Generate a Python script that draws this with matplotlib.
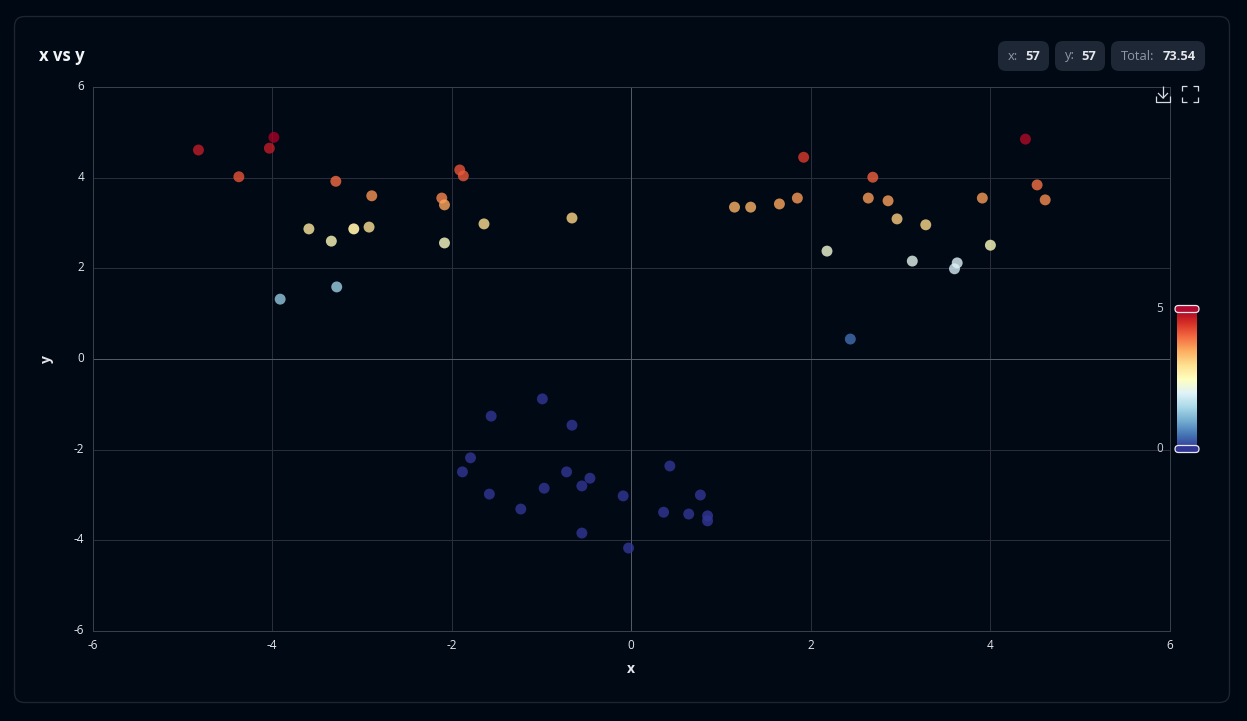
import numpy as np
import matplotlib
matplotlib.use("Agg")
import matplotlib.pyplot as plt
from matplotlib.patches import FancyBboxPatch
from matplotlib.transforms import ScaledTranslation

x = [-4.82,-3.98,-4.03,-4.37,-3.29,-2.89,-1.91,-1.87,-2.11,-2.08,-3.59,-3.34,-3.09,-2.92,-2.08,-1.64,-0.66,-3.91,-3.28,
     1.92,2.69,4.39,4.52,4.61,3.91,1.15,1.33,1.65,1.85,2.64,2.86,2.96,3.28,2.18,3.13,3.60,3.63,4.00,2.44,
     -0.99,-1.56,-0.66,-1.79,-1.88,-1.58,-1.23,-0.97,-0.72,-0.55,-0.46,-0.09,0.43,0.77,0.36,0.64,0.85,0.85,-0.55,-0.03]
y = [4.61,4.89,4.65,4.02,3.92,3.60,4.17,4.04,3.55,3.40,2.87,2.60,2.87,2.91,2.56,2.98,3.11,1.32,1.59,
     4.45,4.01,4.85,3.84,3.51,3.55,3.35,3.35,3.42,3.55,3.55,3.49,3.09,2.96,2.38,2.16,1.99,2.12,2.51,0.44,
     -0.88,-1.26,-1.46,-2.18,-2.49,-2.98,-3.31,-2.85,-2.49,-2.80,-2.63,-3.02,-2.36,-3.00,-3.38,-3.42,-3.46,-3.57,-3.84,-4.17]
values = [4.7,5.0,4.7,4.2,4.0,3.7,4.2,4.15,3.8,3.55,2.85,2.55,2.75,2.95,2.45,3.0,3.1,1.3,1.4,
          4.4,4.1,4.9,3.95,3.75,3.65,3.45,3.45,3.55,3.65,3.65,3.6,3.2,3.05,2.3,2.1,1.9,2.0,2.5,0.45,
          0,0,0,0,0,0,0,0,0,0,0,0,0,0,0,0,0,0,0,0]
highlighted = [12]
ticks = [-6,-4,-2,0,2,4,6]
title = "x vs y"
badges = [("x:", "57"), ("y:", "57"), ("Total:", "73.54")]

W, H = 1247, 721
BG = "#000814"
plt.rcParams["font.family"] = ["Open Sans", "DejaVu Sans"]
plt.rcParams["axes.unicode_minus"] = False
fig = plt.figure(figsize=(W/100, H/100), dpi=100, facecolor=BG)

bgax = fig.add_axes([0, 0, 1, 1], zorder=0)
bgax.set_xlim(0, W); bgax.set_ylim(H, 0); bgax.axis("off")
bgax.add_patch(FancyBboxPatch((14.5, 16.5), 1215, 686, boxstyle="round,pad=0,rounding_size=10",
                              fc="#010915", ec="#1f2530", lw=1))

ax = fig.add_axes([92.5/W, 1-631/H, (1170-92.5)/W, (631-87)/H], zorder=1)
ax.patch.set_alpha(0)
ax.set_xlim(-6, 6); ax.set_ylim(-6, 6)
ax.set_xticks(ticks); ax.set_yticks(ticks)
ax.grid(True, color="#2b303c", lw=0.7)
ax.set_axisbelow(True)
for s in ax.spines.values():
    s.set_color("#3a404c"); s.set_linewidth(0.7)
ax.axhline(0, color="#565c66", lw=0.7, zorder=1)
ax.axvline(0, color="#565c66", lw=0.7, zorder=1)
ax.tick_params(length=0, colors="#e5e7eb", labelsize=8.5, pad=6)
up = ScaledTranslation(0, 1.5/72, fig.dpi_scale_trans)
for lab in ax.get_yticklabels():
    lab.set_transform(lab.get_transform() + up)
ax.set_xlabel("x", color="#e5e7eb", fontsize=10, fontweight="bold", labelpad=7)
ax.set_ylabel("y", color="#e5e7eb", fontsize=10, fontweight="bold", labelpad=14)
cmap = plt.get_cmap("RdYlBu_r")
alphas = [0.92 if i in highlighted else 0.8 for i in range(len(x))]
ax.scatter(x, y, c=values, cmap=cmap, vmin=0, vmax=5, s=62, alpha=alphas, linewidths=0, zorder=3)

ov = fig.add_axes([0, 0, 1, 1], zorder=2)
ov.set_xlim(0, W); ov.set_ylim(H, 0); ov.axis("off"); ov.patch.set_alpha(0)
ov.text(39, 56, title, color="#f3f4f6", fontsize=12, fontweight="bold", va="center", ha="left")

spans = [(998, 1049), (1055, 1105), (1111, 1205)]
for (a, b), (k, v) in zip(spans, badges):
    ov.add_patch(FancyBboxPatch((a, 41), b-a, 30, boxstyle="round,pad=0,rounding_size=8", fc="#1d2735", ec="none"))
    ov.text(a+10, 56, k, color="#8f98a6", fontsize=9.3, va="center", ha="left")
    ov.text(b-9, 56, v, color="#e5e7eb", fontsize=9.3, fontweight="bold", va="center", ha="right")

ic = dict(color="#d7dae0", lw=0.9, solid_capstyle="butt")
ov.plot([1163, 1163], [86, 98], **ic)
ov.plot([1158, 1163, 1168], [93, 98, 93], **ic)
ov.plot([1156, 1156, 1170, 1170], [96, 102, 102, 96], **ic)
for sx, sy in [(1182, 86), (1198, 86), (1182, 102), (1198, 102)]:
    dx = 5 if sx < 1190 else -5
    dy = 5 if sy < 94 else -5
    ov.plot([sx+dx, sx, sx], [sy, sy, sy+dy], **ic)

grad = np.linspace(1, 0, 256).reshape(-1, 1)
ov.imshow(grad, cmap=cmap, aspect="auto", extent=(1177, 1197, 449, 309), zorder=3)
ov.set_xlim(0, W); ov.set_ylim(H, 0)
ov.add_patch(FancyBboxPatch((1175, 305.5), 24, 7, boxstyle="round,pad=0,rounding_size=3.5", fc="#b00a30", ec="#e8e8ee", lw=0.9, zorder=4))
ov.add_patch(FancyBboxPatch((1175, 445.5), 24, 7, boxstyle="round,pad=0,rounding_size=3.5", fc="#313695", ec="#e8e8ee", lw=0.9, zorder=4))
ov.text(1160, 308, "5", color="#c9cdd4", fontsize=8.5, ha="center", va="center")
ov.text(1160, 448, "0", color="#c9cdd4", fontsize=8.5, ha="center", va="center")

fig.savefig("out.png", dpi=100, facecolor=BG)
